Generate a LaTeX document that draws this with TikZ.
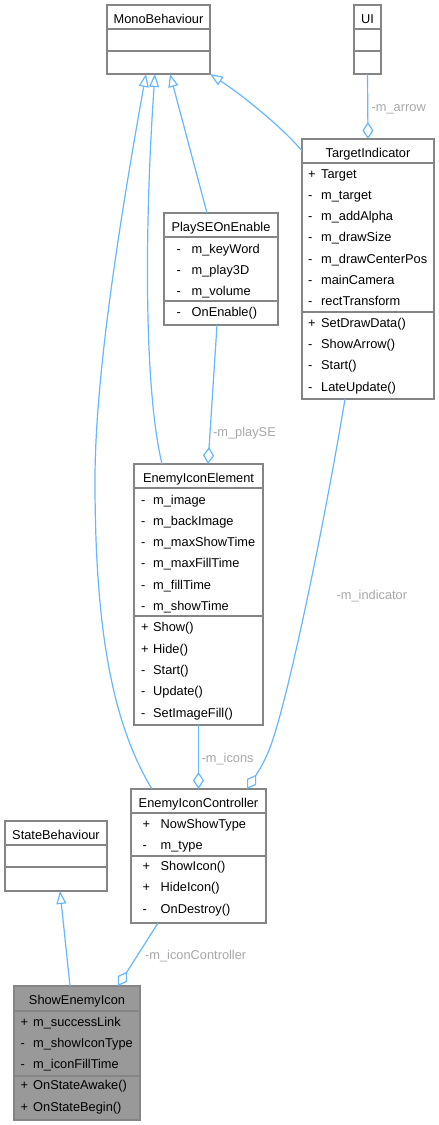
\documentclass[tikz,border=0pt]{standalone}
\usepackage{fontspec}
\setmainfont{Liberation Sans}
\usetikzlibrary{arrows.meta,fit}
\definecolor{edgeblue}{HTML}{63B8FF}
\definecolor{boxgray}{HTML}{858585}
\definecolor{lblgray}{HTML}{A8A8A8}
\definecolor{selgray}{HTML}{999999}
\newcommand\umlmembers[5]{%
  \foreach \sy/\tx [count=\i from 0] in {#5} {
    \node[memtext] (#1-m\i) at (#2, #3+\i*21.3) {\makebox[#4][l]{\sy}\tx};
  }%
}
\begin{document}
\begin{tikzpicture}[x=1pt,y=-1pt,
  classbox/.style={draw=boxgray, fill=white, line width=1.5pt, inner sep=0pt, outer sep=0pt},
  sepline/.style={draw=boxgray, line width=1.5pt},
  titletext/.style={anchor=base, inner sep=0pt, font=\fontsize{12.8}{15}\selectfont},
  memtext/.style={anchor=base west, inner sep=0pt, font=\fontsize{12.8}{15}\selectfont},
  lbl/.style={anchor=base west, inner sep=0pt, text=lblgray, font=\fontsize{12.8}{15}\selectfont},
  inh/.style={draw=edgeblue, line width=1.2pt, -{Triangle[fill=white,length=13pt,width=10pt]}},
  agg/.style={draw=edgeblue, line width=1.2pt, -{Diamond[fill=white,length=17pt,width=11pt]}},
]
\fill[white] (0,0) rectangle (439,1125);
\useasboundingbox (0,0) rectangle (439,1125);

% MonoBehaviour
\node[classbox, fit={(107,5) (210,74)}] (mono) {};
\draw[sepline] (107,29) -- (210,29);
\draw[sepline] (107,51) -- (210,51);
\node[titletext] (mono-t) at (158.5,23) {MonoBehaviour};

% UI
\node[classbox, fit={(354,5) (381,74)}] (ui) {};
\draw[sepline] (354,29) -- (381,29);
\draw[sepline] (354,51) -- (381,51);
\node[titletext] (ui-t) at (367.5,23) {UI};

% TargetIndicator
\node[classbox, fit={(302,139) (434,399)}] (target) {};
\draw[sepline] (302,163) -- (434,163);
\draw[sepline] (302,312) -- (434,312);
\node[titletext] (target-t) at (368,157) {TargetIndicator};
\umlmembers{target}{308}{178}{13pt}{+/Target, -/m\_target, -/m\_addAlpha, -/m\_drawSize, -/m\_drawCenterPos, -/mainCamera, -/rectTransform, +/SetDrawData(), -/ShowArrow(), -/Start(), -/LateUpdate()}

% PlaySEOnEnable
\node[classbox, fit={(164,213) (278,325)}] (playse) {};
\draw[sepline] (164,237) -- (278,237);
\draw[sepline] (164,301) -- (278,301);
\node[titletext] (playse-t) at (221,231.5) {PlaySEOnEnable};
\umlmembers{playse}{176.5}{253}{15pt}{-/m\_keyWord, -/m\_play3D, -/m\_volume, -/OnEnable()}

% EnemyIconElement
\node[classbox, fit={(134,464) (263,725)}] (eie) {};
\draw[sepline] (134,488) -- (263,488);
\draw[sepline] (134,616) -- (263,616);
\node[titletext] (eie-t) at (198.5,482) {EnemyIconElement};
\umlmembers{eie}{141}{504}{12pt}{-/m\_image, -/m\_backImage, -/m\_maxShowTime, -/m\_maxFillTime, -/m\_fillTime, -/m\_showTime, +/Show(), +/Hide(), -/Start(), -/Update(), -/SetImageFill()}

% EnemyIconController
\node[classbox, fit={(131,789) (266,923)}] (eic) {};
\draw[sepline] (131,813) -- (266,813);
\draw[sepline] (131,856) -- (266,856);
\node[titletext] (eic-t) at (198.5,807) {EnemyIconController};
\umlmembers{eic}{142.5}{828}{18pt}{+/NowShowType, -/m\_type, +/ShowIcon(), +/HideIcon(), -/OnDestroy()}

% StateBehaviour
\node[classbox, fit={(5,821) (107,891)}] (sb) {};
\draw[sepline] (5,845) -- (107,845);
\draw[sepline] (5,867) -- (107,867);
\node[titletext] (sb-t) at (56,839) {StateBehaviour};

% ShowEnemyIcon
\node[classbox, fill=selgray, fit={(14,986) (140,1120)}] (sei) {};
\draw[sepline] (14,1011) -- (140,1011);
\draw[sepline] (14,1076) -- (140,1076);
\node[titletext] (sei-t) at (77,1004.5) {ShowEnemyIcon};
\umlmembers{sei}{20.5}{1026}{12.5pt}{+/m\_successLink, -/m\_showIconType, -/m\_iconFillTime, +/OnStateAwake(), +/OnStateBegin()}

% inheritance
\draw[inh] ([xshift=21pt]eic.north west) .. controls (110,720) and (95,620) .. (95,480) .. controls (95,380) and (118,230) .. ([xshift=39pt]mono.south west);
\draw[inh] ([xshift=28pt]eie.north west) .. controls (142,380) and (146,200) .. ([xshift=48pt]mono.south west);
\draw[inh] ([xshift=43pt]playse.north west) -- ([xshift=63pt]mono.south west);
\draw[inh] ([yshift=-12pt]target.north west) .. controls (285,130) and (245,97) .. (mono.south east);
\draw[inh] ([xshift=56pt]sei.north west) -- ([xshift=55pt]sb.south west);

% aggregation
\draw[agg] (ui.south) -- (target.north);
\draw[agg] ([xshift=53pt]playse.south west) -- ([xshift=74pt]eie.north west);
\draw[agg] (eie.south) -- (eic.north);
\draw[agg] ([xshift=43pt]target.south west) .. controls (325,520) and (290,690) .. (272,742) .. controls (266,760) and (258,772) .. ([xshift=116pt]eic.north west);
\draw[agg] ([xshift=27pt]eic.south west) -- ([xshift=104pt]sei.north west);

% labels
\node[lbl] (l-arrow) at (371.5,111) {-m\_arrow};
\node[lbl] (l-playse) at (213,436) {-m\_playSE};
\node[lbl] (l-icons) at (201.5,762) {-m\_icons};
\node[lbl] (l-ind) at (336.5,599) {-m\_indicator};
\node[lbl] (l-ictrl) at (145,959) {-m\_iconController};
\end{tikzpicture}
\end{document}
